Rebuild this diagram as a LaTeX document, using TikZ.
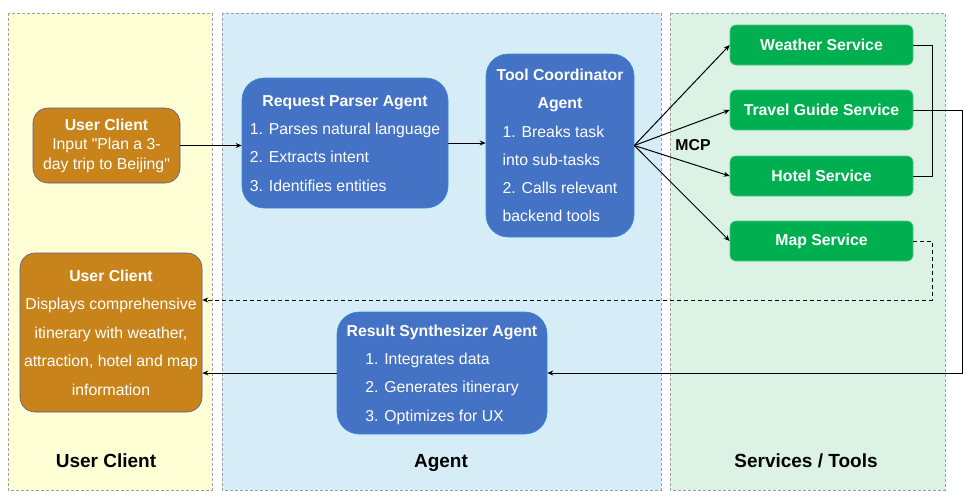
\documentclass[tikz,border=0pt]{standalone}
\usepackage{fontspec}
\setmainfont{Liberation Sans}
\usetikzlibrary{arrows.meta}
\definecolor{ucfill}{HTML}{C8841A}
\definecolor{agfill}{HTML}{4472C4}
\definecolor{svfill}{HTML}{00B050}
\definecolor{laneyel}{HTML}{FFFFD6}
\definecolor{laneblu}{HTML}{D6EDF8}
\definecolor{lanegrn}{HTML}{DCF2E4}
\tikzset{
  lane/.style={draw=gray!75,densely dashed,line width=0.6pt},
  lanetitle/.style={font=\fontsize{19}{22}\selectfont\bfseries},
  ucbox/.style={fill=ucfill,draw=blue!30!gray,line width=0.6pt,rounded corners=15pt,text=white,inner sep=0pt},
  agbox/.style={fill=agfill,draw=agfill!80!cyan,line width=0.6pt,rounded corners=22pt,text=white,inner sep=0pt,font=\fontsize{15.8}{28.3}\selectfont},
  svbox/.style={fill=svfill,draw=svfill!70!white,line width=0.6pt,rounded corners=6pt,text=white,inner sep=0pt,
    minimum width=183pt,minimum height=40pt,font=\fontsize{15.8}{19}\selectfont\bfseries},
  arr/.style={line width=1pt,-{Stealth[length=6pt,width=5pt]}},
  link/.style={line width=1pt}
}
\begin{document}
\begin{tikzpicture}[x=1pt,y=-1pt]
  \useasboundingbox (0,0) rectangle (972,501);
  % lanes
  \draw[lane,fill=laneyel] (8,13) rectangle (212,490);
  \draw[lane,fill=laneblu] (222,13) rectangle (661,490);
  \draw[lane,fill=lanegrn] (670,13) rectangle (945,490);
  \node[lanetitle] (tuser) at (106,461) {User Client};
  \node[lanetitle] (tagent) at (441,463) {Agent};
  \node[lanetitle] (tserv) at (806,461) {Services / Tools};
  % nodes
  \node[ucbox,minimum width=147pt,minimum height=75pt,align=center,font=\fontsize{15.8}{19.5}\selectfont] (uc1) at (106.5,145.5)
    {\textbf{User Client}\\Input \textquotedbl Plan a 3-\\day trip to Beijing\textquotedbl};
  \node[ucbox,minimum width=182pt,minimum height=159pt,align=center,font=\fontsize{15.8}{28.5}\selectfont] (uc2) at (111,332.5)
    {\textbf{User Client}\\Displays comprehensive\\itinerary with weather,\\attraction, hotel and map\\information};
  \node[agbox,minimum width=206pt,minimum height=130pt] (rpa) at (345,143)
    {\begin{tabular}{@{}c@{}}\textbf{Request Parser Agent}\\
     \begin{tabular}[t]{@{}l@{}}1. Parses natural language\\2. Extracts intent\\3. Identifies entities\end{tabular}\end{tabular}};
  \node[agbox,minimum width=148pt,minimum height=183pt] (tca) at (560,145.5)
    {\begin{tabular}{@{}c@{}}\textbf{Tool Coordinator}\\\textbf{Agent}\\
     \begin{tabular}[t]{@{}l@{}}1. Breaks task\\into sub-tasks\\2. Calls relevant\\backend tools\end{tabular}\end{tabular}};
  \node[agbox,minimum width=210pt,minimum height=122pt] (rsa) at (442,373)
    {\begin{tabular}{@{}c@{}}\textbf{Result Synthesizer Agent}\\
     \begin{tabular}[t]{@{}l@{}}1. Integrates data\\2. Generates itinerary\\3. Optimizes for UX\end{tabular}\end{tabular}};
  \node[svbox] (weather) at (821.5,45) {Weather Service};
  \node[svbox] (travel) at (821.5,110) {Travel Guide Service};
  \node[svbox] (hotel) at (821.5,176) {Hotel Service};
  \node[svbox] (map) at (821.5,241) {Map Service};
  \node[font=\fontsize{15.8}{19}\selectfont\bfseries] (mcp) at (693,145) {MCP};
  \coordinate (wh) at (932,110);
  \coordinate (tg) at (962,240);
  \coordinate (mp) at (932,300);
  % edges
  \draw[arr] (uc1.east) -- (uc1.east -| rpa.west);
  \draw[arr] (rpa.east) -- (rpa.east -| tca.west);
  \draw[arr] (tca.east) -- (weather.west);
  \draw[arr] (tca.east) -- (travel.west);
  \draw[arr] (tca.east) -- (hotel.west);
  \draw[arr] (tca.east) -- (map.west);
  \draw[link] (weather.east) -| (wh) |- (hotel.east);
  \draw[arr] (travel.east) -| (tg) |- (rsa.east);
  \draw[arr,dash pattern=on 4pt off 3pt] (map.east) -| (mp) -- (mp -| uc2.east);
  \draw[arr] (rsa.west) -- (rsa.west -| uc2.east);
\end{tikzpicture}
\end{document}
